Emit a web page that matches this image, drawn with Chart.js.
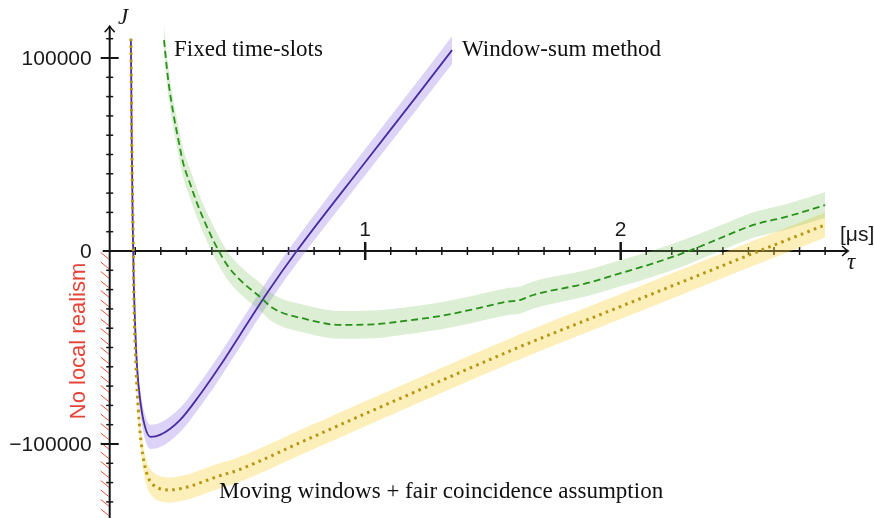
<!DOCTYPE html>
<html>
<head>
<meta charset="utf-8">
<script src="https://cdn.jsdelivr.net/npm/chart.js@4/dist/chart.umd.min.js"></script>
<style>
  html, body { margin: 0; padding: 0; background: #ffffff; }
  #wrap { width: 874px; height: 518px; }
</style>
</head>
<body>
<div id="wrap"><canvas id="c" width="874" height="518"></canvas></div>
<script>
// ---- Data (τ in μs, J) ----
const windowSumTau = [0.083, 0.086, 0.090, 0.094, 0.100, 0.107, 0.119, 0.138, 0.160, 0.197, 0.275, 0.353, 0.432, 0.510, 0.620, 0.732, 1.000, 1.200, 1.340];
const windowSumJ   = [110000, 60000, 15000, -15000, -40000, -60000, -77000, -91000, -96300, -95300, -87600, -74500, -59500, -43500, -21000, 0, 46000, 80000, 104100];
const windowSumErr = [6300, 6300, 6300, 6300, 6300, 6300, 6300, 6300, 6300, 6300, 6300, 6300, 6300, 6300, 6400, 6500, 6800, 7000, 7200];

const fixedSlotsTau = [0.2125, 0.229, 0.249, 0.269, 0.288, 0.314, 0.347, 0.386, 0.425, 0.464, 0.510, 0.588, 0.640, 0.771, 0.901, 1.032, 1.162, 1.293, 1.423, 1.554, 1.606, 1.658, 1.867, 1.997, 2.128, 2.258, 2.389, 2.519, 2.650, 2.800];
const fixedSlotsJ   = [109300, 88600, 71300, 57500, 45400, 35100, 23000, 10900, 500, -8100, -15000, -23700, -29700, -35400, -38300, -38000, -36100, -33700, -30200, -26300, -25400, -22800, -16700, -11600, -6400, -400, 6600, 13500, 17800, 23800];
const fixedSlotsErr = [7500, 7500, 7500, 7500, 7500, 7500, 7500, 7500, 7500, 7200, 7200, 7200, 7200, 7200, 7200, 7200, 7000, 7000, 7000, 7000, 7000, 7000, 6800, 6800, 6800, 6800, 6600, 6600, 6600, 6600];

const movingTau = [0.083, 0.087, 0.092, 0.095, 0.103, 0.112, 0.125, 0.145, 0.171, 0.200, 0.236, 0.301, 0.366, 0.432, 0.503, 0.750, 1.000, 1.300, 1.606, 1.997, 2.250, 2.519, 2.800];
const movingJ   = [110000, 50000, 5000, -25400, -60000, -82400, -101400, -115200, -121200, -123300, -123800, -122400, -119500, -116400, -113500, -99000, -84300, -67000, -49600, -28900, -15500, -1200, 13500];
const movingErr = [6500, 6500, 6500, 6500, 6500, 6500, 6500, 6500, 6500, 6500, 6500, 6500, 6500, 6500, 6500, 6500, 6500, 6500, 6500, 6500, 6500, 6500, 6500];

const xMajorTicks = [1, 2];
const xTickLabels = ['1', '2'];
const yMajorTicks = [100000, 0, -100000];
const yTickLabels = ['100000', '0', '\u2212100000'];

const seriesLabels = ['Window-sum method', 'Fixed time-slots', 'Moving windows + fair coincidence assumption'];
const xUnitLabel = '[\u03BCs]';
const xAxisSymbol = '\u03C4';
const yAxisSymbol = 'J';
const regionLabel = 'No local realism';

// ---- helpers to build library datasets ----
function pts(tau, vals) { return tau.map((t, i) => ({ x: t, y: vals[i] })); }
function shifted(tau, vals, err, sign) { return tau.map((t, i) => ({ x: t, y: vals[i] + sign * err[i] })); }

const purple = 'rgb(72,44,160)';
const purpleBand = 'rgba(140,110,225,0.30)';
const green = 'rgb(40,145,25)';
const greenBand = 'rgba(120,190,90,0.26)';
const gold = 'rgb(182,150,18)';
const goldBand = 'rgba(250,210,60,0.36)';

function band(tau, vals, err, color) {
  return [
    { data: shifted(tau, vals, err, 1), borderWidth: 0, borderColor: 'rgba(0,0,0,0)', backgroundColor: color, fill: '+1', pointRadius: 0, order: 10, cubicInterpolationMode: 'monotone' },
    { data: shifted(tau, vals, err, -1), borderWidth: 0, borderColor: 'rgba(0,0,0,0)', backgroundColor: color, fill: false, pointRadius: 0, order: 10, cubicInterpolationMode: 'monotone' }
  ];
}

const datasets = [
  ...band(fixedSlotsTau, fixedSlotsJ, fixedSlotsErr, greenBand),
  ...band(movingTau, movingJ, movingErr, goldBand),
  ...band(windowSumTau, windowSumJ, windowSumErr, purpleBand),
  { label: seriesLabels[1], data: pts(fixedSlotsTau, fixedSlotsJ), borderColor: green, borderWidth: 1.8, borderDash: [7, 4], fill: false, pointRadius: 0, order: 0, cubicInterpolationMode: 'monotone' },
  { label: seriesLabels[2], data: pts(movingTau, movingJ), borderColor: gold, borderWidth: 3, borderDash: [2.6, 4.4], borderCapStyle: 'butt', fill: false, pointRadius: 0, order: 0, cubicInterpolationMode: 'monotone' },
  { label: seriesLabels[0], data: pts(windowSumTau, windowSumJ), borderColor: purple, borderWidth: 1.8, fill: false, pointRadius: 0, order: 0, cubicInterpolationMode: 'monotone' }
];

// mapping: tau=0 at 109.7px, 255.5 px per μs; J=0 at 251px, 193 px per 100000
const X_MIN = -109.7 / 255.5, X_MAX = (874 - 109.7) / 255.5;
const Y_MAX = 251 / 0.00193, Y_MIN = -(518 - 251) / 0.00193;

const axesPlugin = {
  id: 'customAxes',
  beforeDatasetsDraw(chart) {
    const { ctx } = chart;
    const xs = chart.scales.x, ys = chart.scales.y;
    const x0 = xs.getPixelForValue(0), y0 = ys.getPixelForValue(0);
    ctx.save();
    // hatching for "no local realism" region
    ctx.strokeStyle = '#e8503c';
    ctx.lineWidth = 1;
    for (let yy = y0 + 8; yy < chart.height + 8; yy += 9.5) {
      ctx.beginPath();
      ctx.moveTo(x0 - 9, yy - 6.5);
      ctx.lineTo(x0 - 1, yy);
      ctx.stroke();
    }
    ctx.strokeStyle = '#151515';
    ctx.lineCap = 'butt';
    // y axis line
    const yTop = ys.getPixelForValue(116500);
    ctx.lineWidth = 2;
    ctx.beginPath(); ctx.moveTo(x0, chart.height); ctx.lineTo(x0, yTop); ctx.stroke();
    // arrow
    ctx.lineWidth = 1.5;
    ctx.beginPath(); ctx.moveTo(x0 - 5, yTop + 6); ctx.quadraticCurveTo(x0 - 1.5, yTop + 2.5, x0, yTop); ctx.quadraticCurveTo(x0 + 1.5, yTop + 2.5, x0 + 5, yTop + 6); ctx.stroke();
    // x axis line
    const xRight = xs.getPixelForValue(2.89);
    ctx.lineWidth = 2;
    ctx.beginPath(); ctx.moveTo(x0 - 7, y0); ctx.lineTo(xRight, y0); ctx.stroke();
    ctx.lineWidth = 1.5;
    ctx.beginPath(); ctx.moveTo(xRight - 6, y0 - 5); ctx.quadraticCurveTo(xRight - 2.5, y0 - 1.5, xRight, y0); ctx.quadraticCurveTo(xRight - 2.5, y0 + 1.5, xRight - 6, y0 + 5); ctx.stroke();
    // y ticks
    for (let v = -130000; v <= 110000; v += 10000) {
      if (v === 0) continue;
      const py = ys.getPixelForValue(v);
      const major = yMajorTicks.includes(v);
      ctx.lineWidth = major ? 2 : 1.5;
      const h = major ? 9 : 3.5;
      ctx.beginPath(); ctx.moveTo(x0 - h, py); ctx.lineTo(x0 + h, py); ctx.stroke();
    }
    // x ticks
    for (let k = 1; k <= 28; k++) {
      const v = k / 10;
      const px = xs.getPixelForValue(v);
      const major = xMajorTicks.includes(v);
      ctx.lineWidth = major ? 2.5 : 1.5;
      const h = major ? 9 : 4;
      ctx.beginPath(); ctx.moveTo(px, y0 - h); ctx.lineTo(px, y0 + h); ctx.stroke();
    }
    // tick labels
    ctx.fillStyle = '#1a1a1a';
    ctx.font = '21px "Liberation Sans", Arial, sans-serif';
    ctx.textAlign = 'right';
    ctx.textBaseline = 'middle';
    yMajorTicks.forEach((v, i) => ctx.fillText(yTickLabels[i], x0 - 18, ys.getPixelForValue(v) + 1));
    ctx.textAlign = 'center';
    ctx.textBaseline = 'alphabetic';
    xMajorTicks.forEach((v, i) => ctx.fillText(xTickLabels[i], xs.getPixelForValue(v), y0 - 15));
    ctx.textAlign = 'left';
    ctx.fillText(xUnitLabel, 840, y0 - 10);
    ctx.font = 'italic 23px "Liberation Serif", "Times New Roman", serif';
    ctx.textAlign = 'center';
    ctx.fillText(xAxisSymbol, 851, y0 + 18);
    ctx.textAlign = 'left';
    ctx.fillText(yAxisSymbol, 118, 24);
    // red region label
    ctx.save();
    ctx.fillStyle = '#e5443a';
    ctx.font = '22px "Liberation Sans", Arial, sans-serif';
    ctx.translate(79, 341);
    ctx.rotate(-Math.PI / 2);
    ctx.textAlign = 'center';
    ctx.textBaseline = 'middle';
    ctx.fillText(regionLabel, 0, 0);
    ctx.restore();
    ctx.restore();
  },
  afterDatasetsDraw(chart) {
    const { ctx } = chart;
    ctx.save();
    ctx.fillStyle = '#111111';
    ctx.font = '23px "Liberation Serif", "Times New Roman", serif';
    ctx.textAlign = 'left';
    ctx.textBaseline = 'alphabetic';
    ctx.fillText(seriesLabels[1], 174, 56);
    ctx.fillText(seriesLabels[0], 462, 56);
    ctx.fillText(seriesLabels[2], 219, 498);
    ctx.restore();
  }
};

new Chart(document.getElementById('c').getContext('2d'), {
  type: 'line',
  data: { datasets },
  options: {
    responsive: false,
    animation: false,
    devicePixelRatio: 1,
    layout: { padding: 0, autoPadding: false },
    plugins: { legend: { display: false }, tooltip: { enabled: false } },
    scales: {
      x: { type: 'linear', min: X_MIN, max: X_MAX, display: false },
      y: { type: 'linear', min: Y_MIN, max: Y_MAX, display: false }
    },
    elements: { point: { radius: 0 }, line: { borderJoinStyle: 'round' } }
  },
  plugins: [axesPlugin]
});
</script>
</body>
</html>
